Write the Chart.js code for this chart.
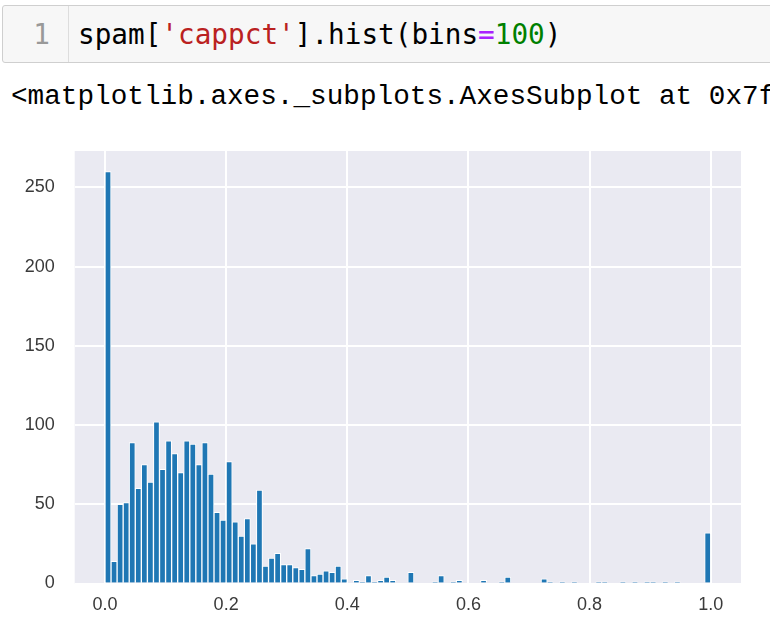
<!DOCTYPE html>
<html>
<head>
<meta charset="utf-8">
<script src="https://cdn.jsdelivr.net/npm/chart.js@4/dist/chart.umd.min.js"></script>
<style>
  html, body { margin: 0; padding: 0; background: #ffffff; width: 770px; height: 634px; overflow: hidden; }
  .cell { position: absolute; left: 2px; top: 5px; width: 820px; height: 56px; background: #f7f7f7;
          border: 1px solid #cfcfcf; border-radius: 3px; }
  .gutter { position: absolute; left: 0; top: 0; width: 65px; height: 56px; border-right: 1px solid #dddddd; }
  .mono { font-size: 27.7px; line-height: 27.7px; white-space: nowrap; position: absolute; }
  .codefont { font-family: "DejaVu Sans Mono", monospace; }
  .outfont { font-family: "Liberation Mono", "Courier New", monospace; }
  .lineno { color: #999999; right: 18px; top: 15px; }
  .code { left: 75px; top: 15px; color: #000000; }
  .str { color: #ba2121; }
  .op { color: #aa22ff; }
  .num { color: #008000; }
  .out { left: 11px; top: 83px; color: #000000; }
  #wrap { position: absolute; left: 0; top: 130px; width: 741px; height: 504px; }
</style>
</head>
<body>
<div class="cell">
  <div class="gutter"><span class="mono codefont lineno">1</span></div>
  <span class="mono codefont code">spam[<span class="str">'cappct'</span>].hist(bins<span class="op">=</span><span class="num">100</span>)</span>
</div>
<span class="mono outfont out">&lt;matplotlib.axes._subplots.AxesSubplot at 0x7f</span>
<div id="wrap"><canvas id="c" width="741" height="504"></canvas></div>
<script>
// Histogram of spam['cappct'], 100 bins over [0, 1]
const binStart = 0;
const binEnd = 1;
const binCount = 100;
const binCounts = [
  260, 14, 50, 51, 89, 60, 75, 64, 102, 72,
  90, 82, 70, 90, 88, 75, 89, 69, 45, 40,
  77, 39, 30, 41, 25, 59, 11, 16, 19, 12,
  12, 10, 9, 22, 5, 6, 8, 7, 11, 3,
  0, 2, 1, 5, 1, 2, 4, 2, 0, 0,
  7, 0, 0, 0, 1, 5, 0, 1, 2, 0,
  0, 0, 2, 0, 0, 1, 4, 0, 0, 0,
  0, 0, 3, 1, 0, 1, 0, 1, 0, 0,
  0, 1, 1, 0, 0, 1, 0, 1, 0, 1,
  1, 0, 1, 0, 1, 0, 0, 0, 0, 32
];
const xTickValues = [0.0, 0.2, 0.4, 0.6, 0.8, 1.0];
const yTickValues = [0, 50, 100, 150, 200, 250];

const binWidth = (binEnd - binStart) / binCount;
const xMargin = (binEnd - binStart) * 0.05;
const yMax = Math.max(...binCounts) * 1.05;

const points = binCounts.map((c, i) => ({ x: binStart + (i + 0.5) * binWidth, y: c }));

const plotBg = {
  id: 'plotBg',
  beforeDraw(chart) {
    const a = chart.chartArea, ctx = chart.ctx;
    ctx.save();
    ctx.fillStyle = '#eaeaf2';
    ctx.fillRect(a.left, a.top, a.right - a.left, a.bottom - a.top);
    ctx.restore();
  }
};

const tickFont = { family: '"Liberation Sans", Arial, sans-serif', size: 18 };

new Chart(document.getElementById('c'), {
  type: 'bar',
  data: {
    datasets: [{
      data: points,
      backgroundColor: '#1f77b4',
      borderColor: '#ffffff',
      borderWidth: 1,
      borderSkipped: 'start',
      categoryPercentage: 1,
      barPercentage: 1
    }]
  },
  options: {
    responsive: false,
    devicePixelRatio: 1,
    animation: false,
    layout: { padding: { top: 21, left: 0, right: 0, bottom: 0 } },
    plugins: { legend: { display: false }, tooltip: { enabled: false } },
    scales: {
      x: {
        type: 'linear',
        bounds: 'data',
        min: binStart - xMargin,
        max: binEnd + xMargin,
        offset: false,
        grid: { color: '#ffffff', lineWidth: 2, drawTicks: false, offset: false },
        border: { display: false },
        ticks: {
          padding: 11, color: '#3a3a3a', font: tickFont, maxRotation: 0,
          callback: v => Number(v).toFixed(1)
        },
        afterBuildTicks: s => { s.ticks = xTickValues.map(v => ({ value: v })); },
        afterFit: s => { s.height = 50.5; s.paddingLeft = 0; s.paddingRight = 0; }
      },
      y: {
        type: 'linear',
        bounds: 'data',
        min: 0,
        max: yMax,
        grid: { color: '#ffffff', lineWidth: 2, drawTicks: false },
        border: { display: false },
        ticks: { padding: 20, color: '#3a3a3a', font: tickFont },
        afterBuildTicks: s => { s.ticks = yTickValues.map(v => ({ value: v })); },
        afterFit: s => { s.width = 74.7; s.paddingTop = 0; s.paddingBottom = 0; }
      }
    }
  },
  plugins: [plotBg]
});
</script>
</body>
</html>
